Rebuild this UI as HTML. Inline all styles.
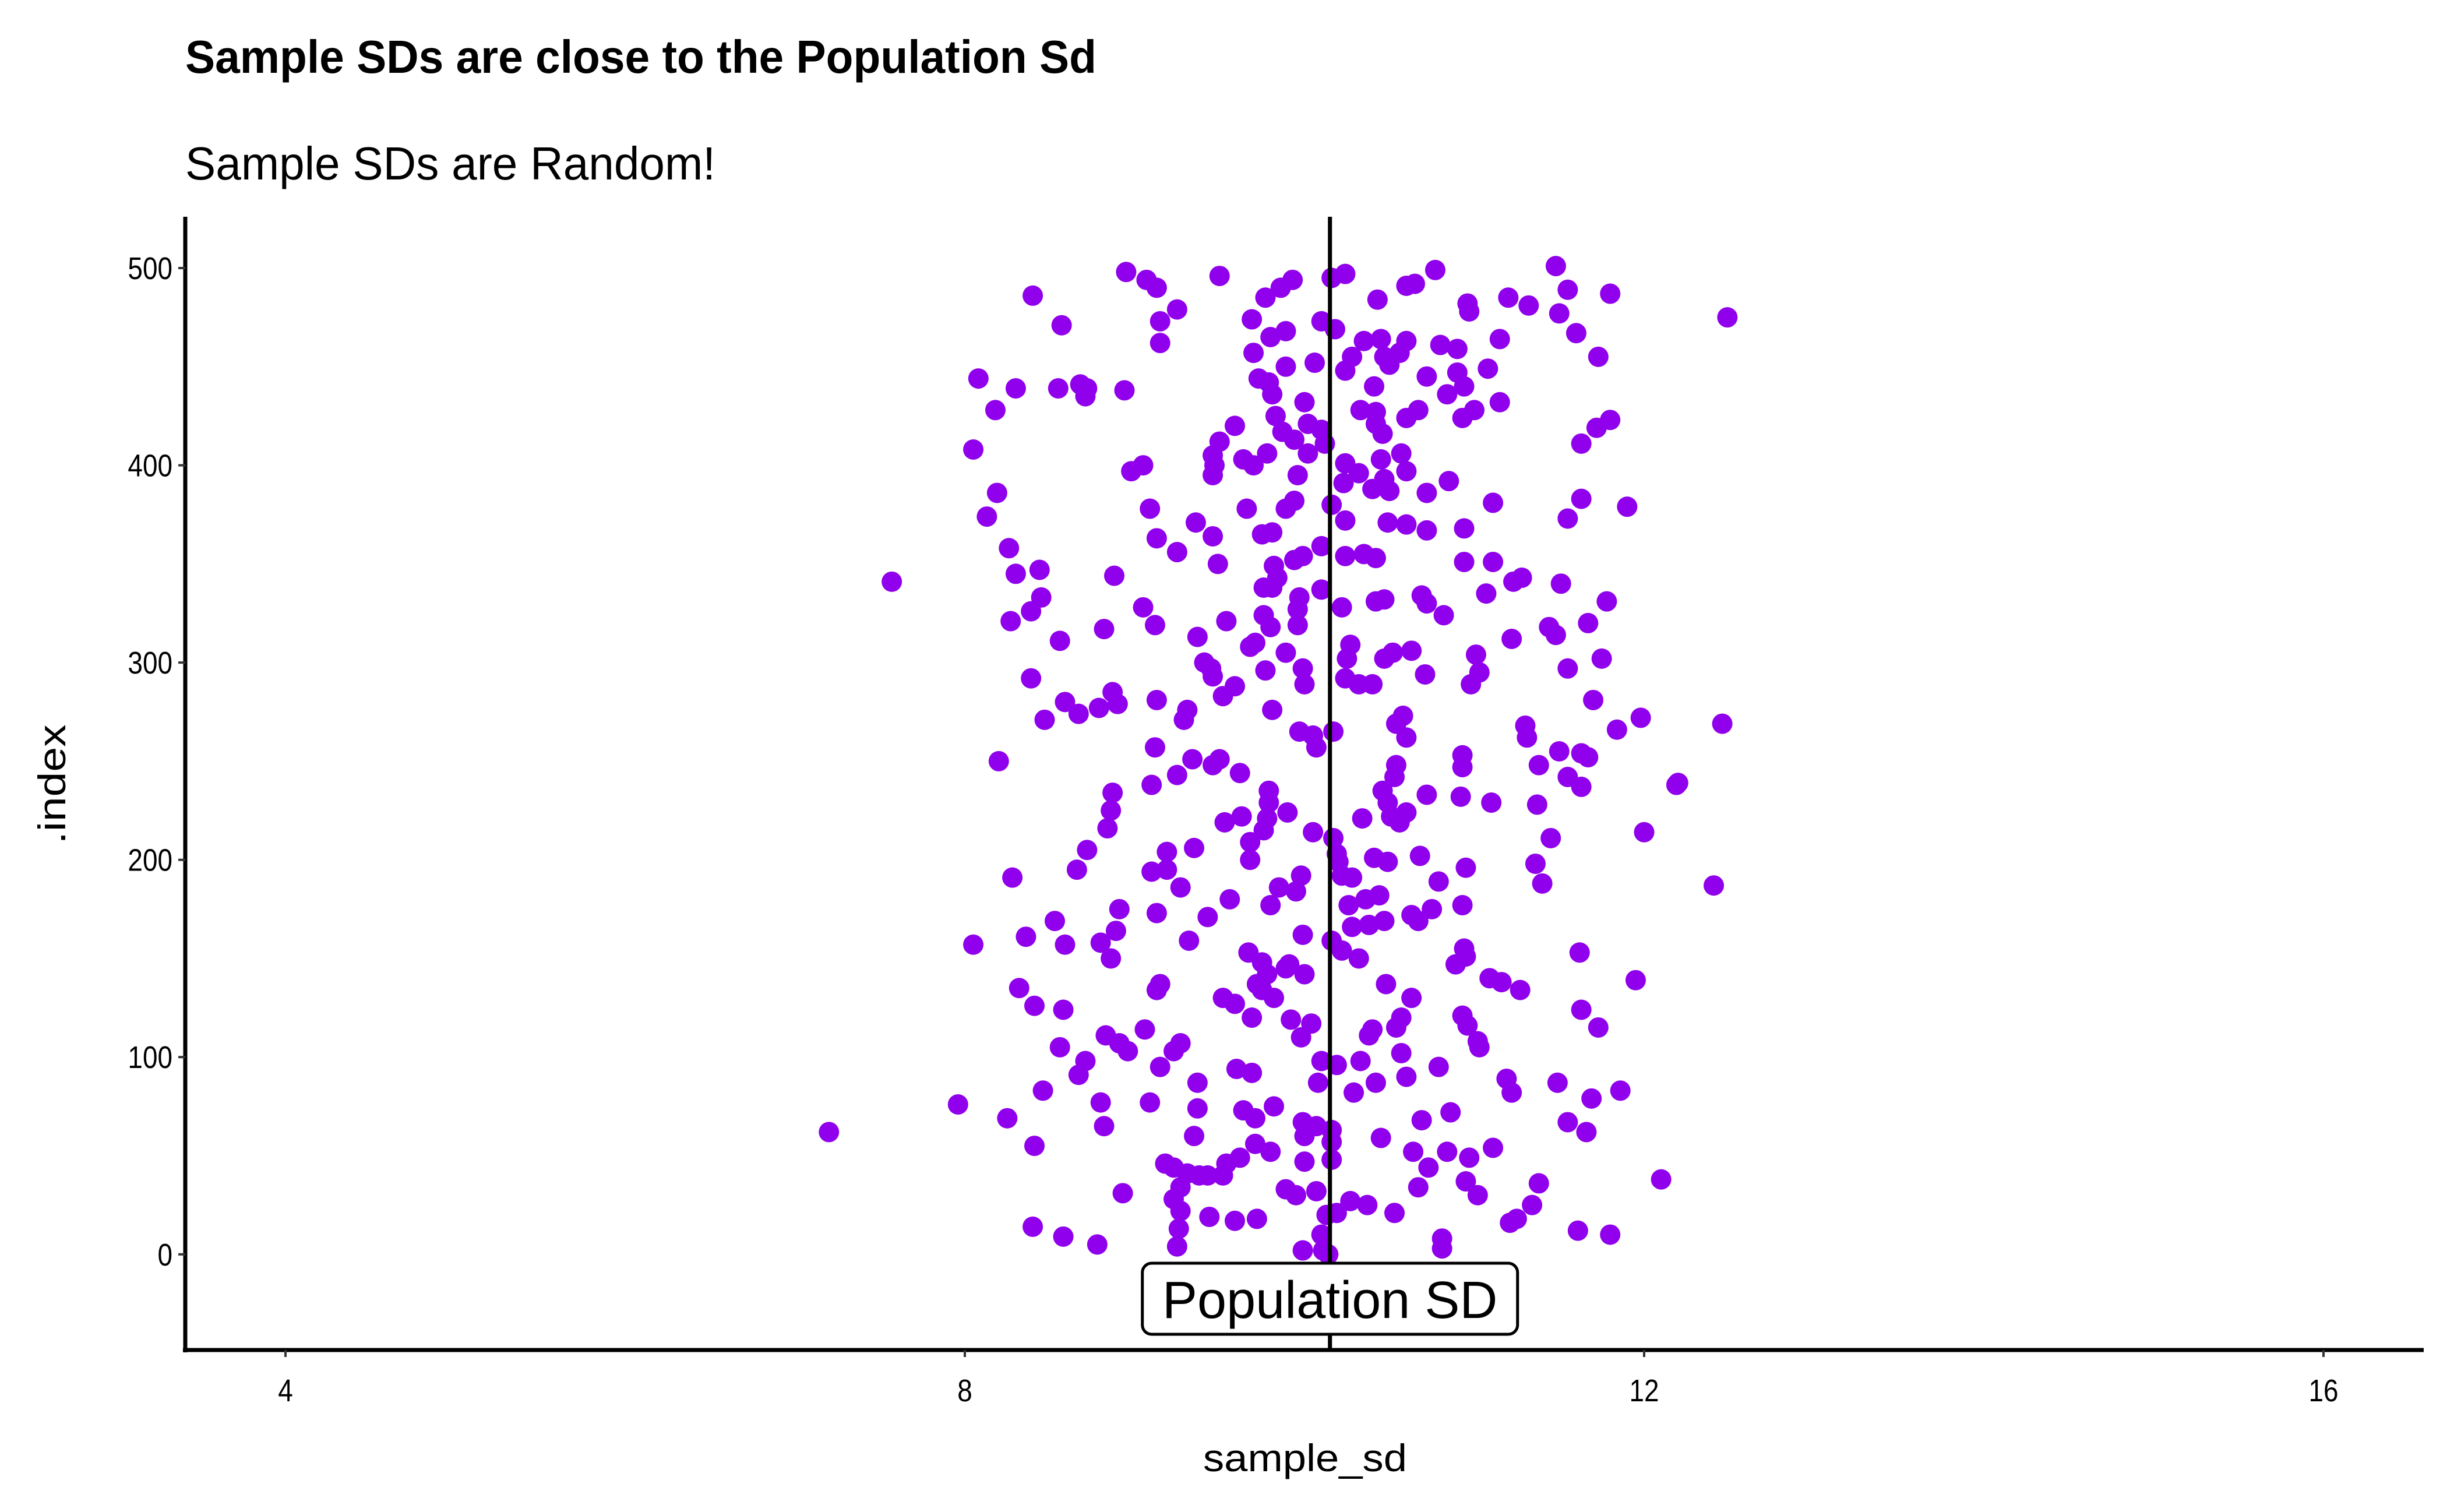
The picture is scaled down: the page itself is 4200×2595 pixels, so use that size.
<!DOCTYPE html>
<html><head><meta charset="utf-8"><style>
html,body{margin:0;padding:0;background:#fff;}
svg{display:block;}
text{font-family:"Liberation Sans Narrow","Liberation Sans",sans-serif;}
</style></head><body>
<svg id="chart" width="4200" height="2595" viewBox="0 0 4200 2595" xmlns="http://www.w3.org/2000/svg">
<text x="318" y="125" font-size="80" font-weight="bold" textLength="1564" lengthAdjust="spacingAndGlyphs">Sample SDs are close to the Population Sd</text>
<text x="318" y="308" font-size="80" textLength="910" lengthAdjust="spacingAndGlyphs">Sample SDs are Random!</text>
<g id="points"></g>
<g id="axes"></g>
<text transform="translate(112,1346) rotate(-90)" text-anchor="middle" font-size="66" textLength="205" lengthAdjust="spacingAndGlyphs">.index</text>
<text x="2240" y="2525" text-anchor="middle" font-size="66" textLength="350" lengthAdjust="spacingAndGlyphs">sample_sd</text>
</svg>
<script>
const sampleSd = [8.95,9.07,9.13,9.5,9.93,9.86,9.77,10.16,10.24,10.77,11.48,11.55,11.8,10.6,10.65,10.43,11.2,11.32,10.96,8.4,9.25,12.49,
9.15,8.57,9.69,10.1,10.18,9.89,9.8,10.97,11.5,11.6,11.15,10.6,10.35,10.45,10.8,10.9,11.73,9.15,9.7,10.28,10.06,10.47,10.5,10.56,11.08,10.9,10.24,9.89,9.73,
8.08,8.3,8.68,8.72,8.94,8.71,8.55,9.79,9.81,10.41,10.72,10.94,10.84,11.15,11.0,10.93,10.33,10.42,10.67,10.6,10.42,9.83,10.0,8.18,11.8,11.72,11.63,9.59,9.5,10.02,10.1,9.87,9.94,10.12,10.46,
8.05,9.46,9.47,9.46,9.64,9.7,9.78,10.02,10.24,10.32,10.45,10.57,10.6,10.47,10.23,10.4,10.5,10.72,10.85,9.96,9.05,8.98,8.19,8.13,9.09,11.11,11.63,11.9,11.55,9.66,9.94,9.89,10.16,10.24,10.49,10.6,10.72,10.94,9.75,9.81,9.36,9.46,9.13,9.25,10.1,9.99,10.24,10.35,10.42,
8.26,8.3,8.44,7.57,8.88,9.49,9.82,9.94,9.84,10.94,11.11,11.23,11.28,11.51,11.07,10.69,10.42,10.72,10.82,10.47,9.76,9.81,9.97,9.96,10.1,10.22,9.76,9.54,9.8,8.45,8.39,8.27,9.05,9.12,11.78,11.67,11.44,11.22,11.48,11.75,8.56,8.82,9.37,9.68,9.89,9.71,9.96,10.27,10.25,10.47,10.52,10.63,11.01,
9.41,9.45,9.46,9.59,9.52,9.77,9.99,10.0,10.24,10.32,10.4,10.71,11.03,10.98,11.55,11.7,8.39,8.87,8.9,8.79,8.67,8.59,8.47,9.13,9.31,9.29,9.81,9.97,10.05,10.17,10.07,10.54,10.58,10.6,11.3,11.31,11.5,11.63,11.67,11.98,11.84,12.46,8.2,9.12,9.34,9.46,9.5,9.1,9.25,9.62,10.54,10.53,10.93,10.93,11.55,11.38,11.63,
8.87,8.86,8.84,8.72,8.66,9.79,9.79,9.9,9.78,9.63,9.53,9.76,9.68,10.46,10.49,10.51,10.6,10.56,10.34,10.72,10.92,11.1,11.37,11.45,11.36,11.4,12.19,12.2,12.0,12.41,10.05,10.17,10.19,10.2,10.22,10.28,10.41,10.49,10.68,10.95,9.19,9.19,9.1,9.35,9.68,9.98,9.85,8.28,9.27,9.56,9.8,9.95,10.26,10.36,10.44,10.79,10.63,10.67,10.75,10.93,
8.91,9.13,8.53,8.89,8.8,8.86,8.05,8.36,8.59,9.43,9.32,9.99,10.16,10.22,10.32,10.28,10.38,10.47,10.94,10.95,10.89,9.67,9.75,9.89,9.91,9.78,10.0,9.72,9.75,9.82,11.62,11.95,10.48,10.63,11.09,11.16,11.27,9.13,9.15,9.52,9.59,8.32,8.41,8.58,11.63,11.73,
9.06,8.83,8.91,8.96,8.56,8.71,8.67,9.27,9.23,9.15,9.69,9.92,10.04,9.98,10.38,10.4,10.57,10.54,10.93,10.96,11.02,11.03,10.79,10.57,10.6,10.1,10.19,10.33,10.42,10.08,10.29,9.6,9.69,9.37,8.46,11.19,11.22,11.49,11.69,11.86,
7.96,7.2,8.25,8.41,8.8,9.09,8.82,9.37,9.64,9.71,9.82,9.99,10.07,10.16,10.0,9.35,10.16,10.45,10.69,10.86,11.55,11.66,11.11,10.97,10.84,10.64,10.73,10.95,12.1,11.38,10.16,10.0,9.71,9.8,9.62,9.54,9.18,9.23,9.31,9.38,9.43,9.52,9.27,9.23,8.93,9.89,9.95,10.07,10.27,10.37,10.19,10.53,10.67,11.02,11.34,
9.27,9.26,9.25,9.44,9.59,9.72,8.4,8.58,8.78,11.21,11.25,11.61,11.8,10.81,10.81,9.99,10.11,10.1,10.14,10.13];
const indexVals = [498,494,490,496,494,490,485,495,497,499,501,489,487,491,492,484,485,481,482,486,479,475,
473,471,474,473,469,468,465,478,477,467,464,463,463,464,461,459,455,462,457,455,452,455,451,457,449,447,448,450,444,
444,439,441,439,438,435,439,442,436,440,445,440,436,432,428,424,428,427,428,424,421,425,432,428,423,419,411,420,412,421,418,417,413,411,416,
408,405,400,395,403,400,406,406,401,396,403,406,397,393,391,388,387,386,392,395,400,397,386,374,378,381,383,379,373,378,382,378,380,372,371,370,367,368,365,366,371,364,363,356,359,354,354,355,353,
358,345,347,341,344,350,349,352,343,351,351,341,343,340,335,334,331,330,324,332,338,338,333,327,337,328,324,321,318,333,326,321,328,319,331,320,318,312,314,302,311,317,313,308,305,310,319,309,302,302,305,306,304,
300,297,293,288,283,296,297,289,292,289,289,294,295,289,297,281,292,285,279,277,274,280,271,281,276,271,276,265,263,265,257,269,273,262,268,262,255,254,252,272,266,269,250,257,251,248,251,238,243,244,248,242,253,247,242,248,237,
234,225,216,205,195,235,229,224,221,222,219,215,209,235,229,222,224,219,221,233,232,229,228,211,198,188,238,239,214,187,214,211,203,199,192,191,201,199,202,196,204,195,194,206,200,192,186,191,186,180,177,184,177,180,182,189,172,169,175,177,
175,173,169,164,158,150,157,161,157,171,159,162,159,154,150,166,167,169,155,151,147,153,148,145,147,142,142,137,134,130,153,139,137,130,140,138,134,134,137,130,127,135,126,124,124,115,
114,111,107,103,105,98,91,107,103,95,120,119,117,110,111,114,120,115,121,116,108,105,95,102,90,98,96,98,87,87,82,94,92,87,83,89,82,87,79,83,
76,62,69,55,77,77,65,74,73,69,75,67,65,63,60,60,57,59,68,72,67,62,54,49,52,52,44,37,38,36,48,47,56,52,49,46,46,44,41,40,40,40,34,28,31,33,30,32,27,25,21,21,34,30,25,
22,13,4,19,17,18,14,9,5,16,18,12,10,8,3,2,2,10,0,20];
const populationSd = [10.15];
const xTicks = [4,8,12,16];
const yTicks = [0,100,200,300,400,500];

const NS = "http://www.w3.org/2000/svg";
const X0 = 318, X1 = 4160, Y0 = 2317, Y1 = 372;
const xMin = 3.41, xMax = 16.59, yMin = -48.5, yMax = 526;
function sx(v){ return X0 + (v - xMin) / (xMax - xMin) * (X1 - X0); }
function sy(v){ return Y0 - (v - yMin) / (yMax - yMin) * (Y0 - Y1); }
function mk(tag, attrs, parent){ const e = document.createElementNS(NS, tag); for (const k in attrs) e.setAttribute(k, attrs[k]); parent.appendChild(e); return e; }

const pts = document.getElementById('points');
const n = Math.min(sampleSd.length, indexVals.length);
for (let i = 0; i < n; i++) {
  const c = mk('circle', {cx: sx(sampleSd[i]), cy: sy(indexVals[i]), r: 17.5, fill: '#9000ec'}, pts);
  
  
}

const ax = document.getElementById('axes');
const vl = mk('line', {x1: sx(populationSd[0]), x2: sx(populationSd[0]), y1: Y1, y2: Y0, stroke: '#000', 'stroke-width': 7}, ax);



const yl = mk('line', {x1: X0, x2: X0, y1: Y1, y2: Y0 + 4, stroke: '#000', 'stroke-width': 7}, ax);


const xl = mk('line', {x1: X0 - 4, x2: X1, y1: Y0, y2: Y0, stroke: '#000', 'stroke-width': 7}, ax);



yTicks.forEach(t => {
  const tk = mk('line', {x1: X0 - 12, x2: X0, y1: sy(t), y2: sy(t), stroke: '#333', 'stroke-width': 4}, ax);
  
  
  const lb = mk('text', {transform: 'translate(' + (X0 - 22) + ',' + (sy(t) + 19) + ') scale(0.85,1)', 'text-anchor': 'end', 'font-size': 54, fill: '#000'}, ax);
  lb.textContent = t;
  
  
});
xTicks.forEach(t => {
  const tk = mk('line', {x1: sx(t), x2: sx(t), y1: Y0, y2: Y0 + 12, stroke: '#333', 'stroke-width': 4}, ax);
  
  
  const lb = mk('text', {transform: 'translate(' + sx(t) + ',' + (Y0 + 88) + ') scale(0.85,1)', 'text-anchor': 'middle', 'font-size': 54, fill: '#000'}, ax);
  lb.textContent = t;
  
  
});

const cx = sx(populationSd[0]);
const box = mk('rect', {x: cx - 322, y: 2168, width: 644, height: 122, rx: 16, fill: '#fff', stroke: '#000', 'stroke-width': 5}, ax);


const lt = mk('text', {x: cx, y: 2262, 'text-anchor': 'middle', 'font-size': 90, fill: '#000'}, ax);
lt.setAttribute('style', 'font-family:"Liberation Sans",sans-serif');
lt.textContent = 'Population SD';


</script>
</body></html>
